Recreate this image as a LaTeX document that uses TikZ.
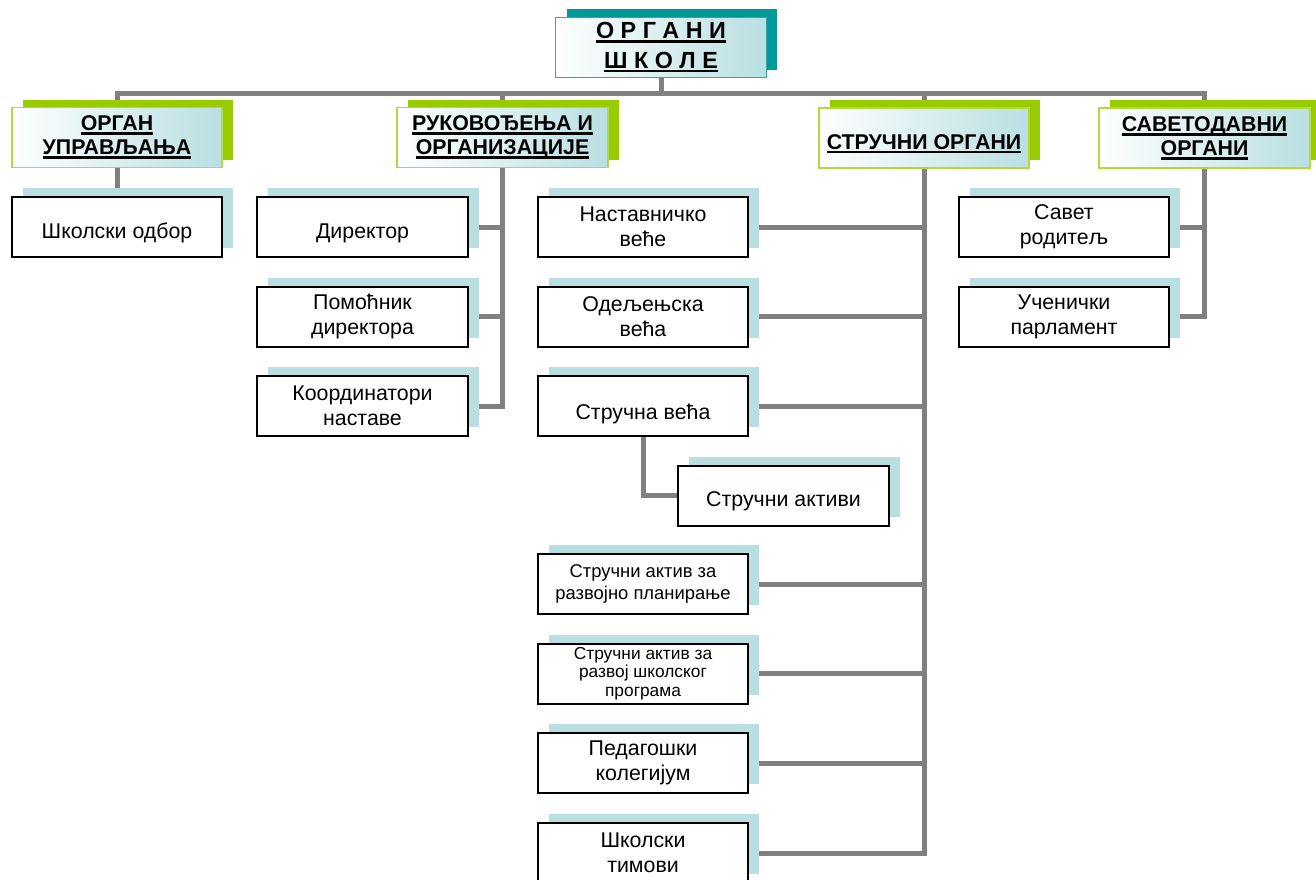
\documentclass[tikz,border=0pt]{standalone}
\usepackage{fontspec}
\setmainfont{Liberation Sans}
\usetikzlibrary{shadows, backgrounds}
\newsavebox{\ulbox}
\newcommand{\ulbar}[1]{\sbox{\ulbox}{#1}\rlap{\usebox{\ulbox}}\rule[-3.2pt]{\wd\ulbox}{2pt}}
\definecolor{linegray}{HTML}{808080}
\definecolor{deepteal}{HTML}{009999}
\definecolor{tealline}{HTML}{33A6A6}
\definecolor{leafgreen}{HTML}{99CC00}
\definecolor{paleleaf}{HTML}{B2DB3A}
\definecolor{icecyan}{HTML}{B9DFE2}
\definecolor{paleblue}{HTML}{BADFE1}
\tikzstyle{root} = [rectangle, minimum width=158pt, minimum height=45.5pt, align=center, draw=tealline, line width=0.9pt, left color=white, right color=icecyan, general shadow={fill=deepteal, shadow xshift=8.25pt, shadow yshift=6pt}, font=\fontsize{17.5}{22}\selectfont\bfseries, inner sep=1pt]
\tikzstyle{branch} = [rectangle, minimum width=158pt, minimum height=45pt, align=center, draw=paleleaf, line width=1.3pt, left color=white, right color=icecyan, general shadow={fill=leafgreen, shadow xshift=8.25pt, shadow yshift=6pt}, font=\fontsize{16}{18}\selectfont\bfseries, inner sep=1pt]
\tikzstyle{unit} = [rectangle, minimum width=158pt, minimum height=45pt, align=center, draw=black, line width=1.5pt, fill=white, general shadow={fill=paleblue, shadow xshift=8.25pt, shadow yshift=6.4pt}, font=\fontsize{16}{18.75}\selectfont, inner sep=1pt]
\tikzstyle{sunk} = [text height=20pt]
\tikzstyle{link} = [line width=3.75pt, draw=linegray]

\begin{document}
\begin{tikzpicture}[x=0.75pt, y=-0.75pt]
    \useasboundingbox (0,0) rectangle (1316,879);

    \node (schoolorgans) [root] at (661,47.5) {\ulbar{О Р Г А Н И}\\\ulbar{Ш К О Л Е}};

    \node (governing) [branch] at (117,137.5) {\ulbar{ОРГАН}\\\ulbar{УПРАВЉАЊА}};
    \node (management) [branch] at (502.5,137.5) {\ulbar{РУКОВОЂЕЊА И}\\\ulbar{ОРГАНИЗАЦИЈЕ}};
    \node (professional) [branch, sunk] at (924,138) {\ulbar{СТРУЧНИ ОРГАНИ}};
    \node (advisory) [branch] at (1204.5,138) {\ulbar{САВЕТОДАВНИ}\\\ulbar{ОРГАНИ}};

    \node (board) [unit, sunk] at (117,227) {Школски одбор};

    \node (director) [unit, sunk] at (362.5,227) {Директор};
    \node (assistant) [unit] at (362.5,316.5) {Помоћник\\директора};
    \node (coordinators) [unit] at (362.5,406) {Координатори\\наставе};

    \node (teachers) [unit] at (643,227) {Наставничко\\веће};
    \node (classcouncils) [unit] at (643,316.5) {Одељењска\\већа};
    \node (subjcouncils) [unit, sunk, text height=24pt] at (643,406) {Стручна већа};
    \node (subjteams) [unit, sunk] at (783.5,495.5) {Стручни активи};
    \node (planning) [unit, font=\fontsize{13.8}{16.5}\selectfont] at (643,584) {Стручни актив за\\развојно планирање};
    \node (program) [unit, font=\fontsize{13}{14}\selectfont] at (643,673.5) {Стручни актив за\\развој школског\\програма};
    \node (pedagogic) [unit] at (643,763) {Педагошки\\колегијум};
    \node (schoolteams) [unit] at (643,853) {Школски\\тимови};

    \node (parents) [unit] at (1064,227) {Савет\\родитељ};
    \node (pupils) [unit] at (1064,316.5) {Ученички\\парламент};

    \coordinate (bus) at (661,93);

    \begin{scope}[on background layer]
    \draw [link] (schoolorgans) -- (bus);
    \draw [link] (governing) |- (bus) -| (advisory);
    \draw [link] (bus) -| (management);
    \draw [link] (bus) -| (professional);

    \draw [link] (governing) -- (board);

    \draw [link] (management) |- (director);
    \draw [link] (management) |- (assistant);
    \draw [link] (management) |- (coordinators);

    \draw [link] (professional) |- (teachers);
    \draw [link] (professional) |- (classcouncils);
    \draw [link] (professional) |- (subjcouncils);
    \draw [link] (professional) |- (planning);
    \draw [link] (professional) |- (program);
    \draw [link] (professional) |- (pedagogic);
    \draw [link] (professional) |- (schoolteams);
    \draw [link] (subjcouncils) |- (subjteams);

    \draw [link] (advisory) |- (parents);
    \draw [link] (advisory) |- (pupils);
    \end{scope}
\end{tikzpicture}
\end{document}
